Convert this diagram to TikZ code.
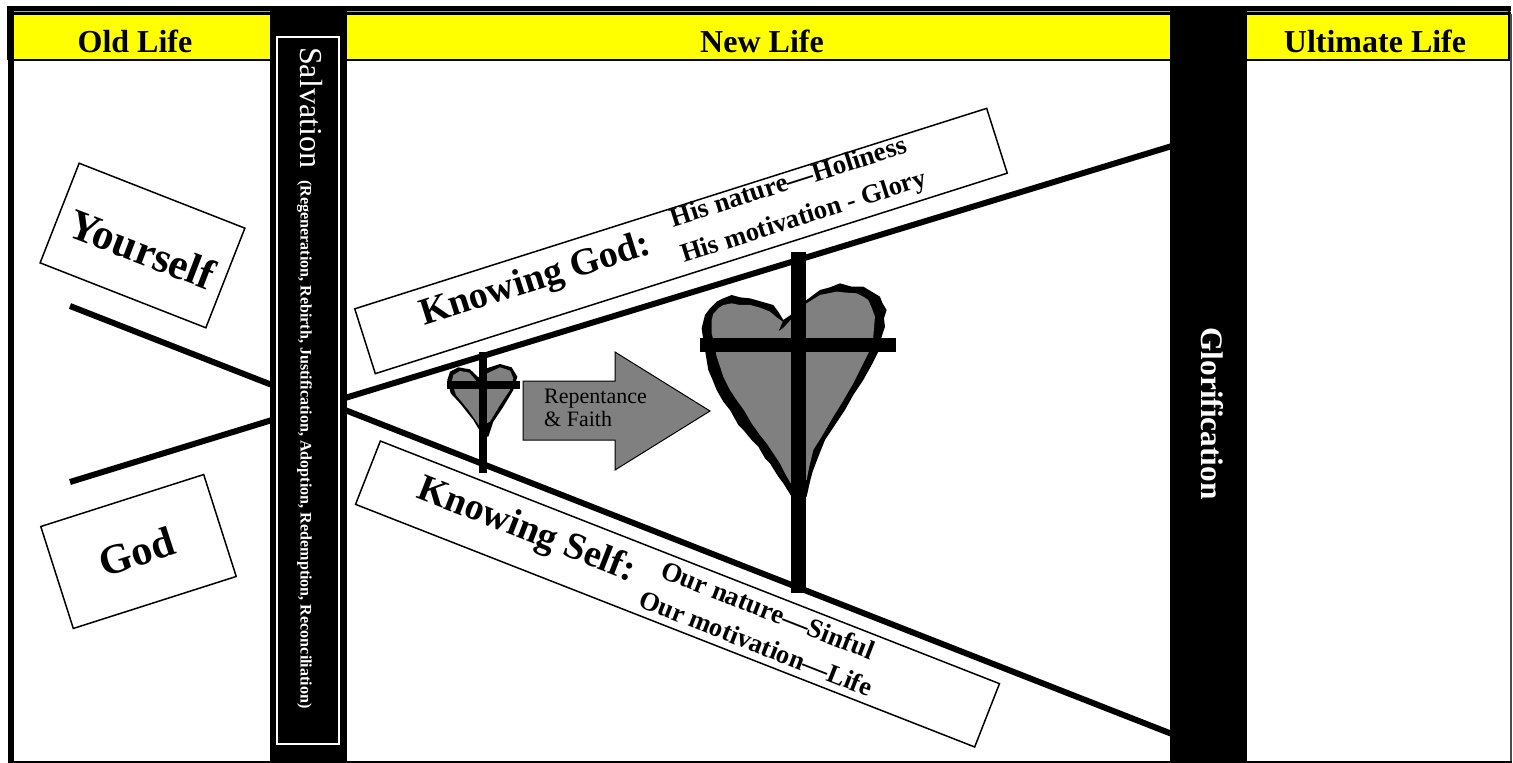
\documentclass[tikz,border=0pt]{standalone}
\usepackage{fontspec}
\setmainfont{Liberation Serif}
\newcommand{\pxf}[1]{\fontsize{#1}{#1}\selectfont}
\definecolor{hgray}{RGB}{128,128,128}
\definecolor{hyellow}{RGB}{255,255,0}
\tikzset{
  lifebar/.style={fill=black,draw=none},
  roadline/.style={line width=6pt,black},
  labelbox/.style={draw=black,line width=1.5pt,fill=white,inner sep=0pt,minimum height=#1},
  head/.style={font=\bfseries\pxf{32},inner sep=0pt,text=black},
  sloped text/.style={font=\bfseries\pxf{#1},inner sep=0pt,text=black},
  crossbar/.style={fill=black,draw=none},
  zoomed/.style={shift={(430pt,-240pt)},x=0.3333pt,y=-0.3333pt},
}
\begin{document}
\begin{tikzpicture}[x=1pt,y=-1pt]
\useasboundingbox (0,0) rectangle (1513,763);
\fill[white] (0,0) rectangle (1513,763);
% frame
\fill[hyellow] (14,15) rectangle (1508,59);
\fill[black] (7,6) rectangle (1511,15);
\fill[hgray!70] (7,10.5) rectangle (1511,12);
\fill[black] (7,6) rectangle (14,60);
\fill[black] (8,60) rectangle (14,762);
\fill[black] (14,58.5) rectangle (1510,60.5);
\fill[black] (1507.5,6) rectangle (1510,60);
\fill[black!70] (1510,14) rectangle (1511.5,762);
\fill[black] (8,760.5) rectangle (1511.5,762.5);
% headers
\node[head] (old) at (135,41) {Old Life};
\node[head] (new) at (762,41) {New Life};
\node[head] (ult) at (1375,41) {Ultimate Life};
% road lines
\coordinate (la) at (70,306); \coordinate (lb) at (272,385);
\coordinate (lc) at (70,482); \coordinate (ld) at (272,420);
\coordinate (ra) at (345,398); \coordinate (rb) at (1172,146);
\coordinate (rc) at (345,410); \coordinate (rd) at (1172,734);
\draw[roadline] (la) -- (lb);
\draw[roadline] (lc) -- (ld);
\draw[roadline] (ra) -- (rb);
\draw[roadline] (rc) -- (rd);
% bars
\node[lifebar,inner sep=0pt,minimum width=77pt,minimum height=756pt] (salv) at (308.5,384) {};
\node[lifebar,inner sep=0pt,minimum width=77pt,minimum height=756pt] (glor) at (1208.5,384) {};
\node[draw=white,line width=1.3pt,fill=black,inner sep=0pt,minimum width=62pt,minimum height=707pt] (salvbox) at (308,390.5) {};
\node[rotate=-90,anchor=base west,inner sep=0pt,text=white] (salvtext) at (300.5,47) {\pxf{32}Salvation {\bfseries\pxf{16.1} (Regeneration, Rebirth, Justification, Adoption, Redemption, Reconciliation)}};
\node[rotate=-90,inner sep=0pt,text=white,font=\bfseries\pxf{31.3}] (glortext) at (1212,413.5) {Glorification};
% boxes
\node[labelbox=107pt,rotate=-21.4,minimum width=178pt] (you) at (142.5,245.5) {};
\node[sloped text=43,rotate=-21] (yout) at (142,249) {Yourself};
\node[labelbox=107pt,rotate=17.7,minimum width=171pt] (god) at (138.5,551.5) {};
\node[sloped text=42,rotate=18] (godt) at (137,552) {God};
\node[labelbox=68pt,rotate=17.6,minimum width=663pt] (kg) at (681,241) {};
\node[sloped text=38,rotate=17.6] (kgt) at (536,281) {Knowing God:};
\node[sloped text=27,rotate=17.6] (kg1) at (788,181) {His nature---Holiness};
\node[sloped text=26.5,rotate=17.6] (kg2) at (804,218) {His motivation - Glory};
\node[labelbox=68pt,rotate=-21.4,minimum width=665pt] (ks) at (677.5,594) {};
\node[sloped text=38,rotate=-21.4] (kst) at (526,531) {Knowing Self:};
\node[sloped text=27,rotate=-21.4] (ks1) at (768,610) {Our nature---Sinful};
\node[sloped text=26.5,rotate=-21.4] (ks2) at (756,643) {Our motivation---Life};
% small heart
\begin{scope}[zoomed]
\fill[black] (160,590) -- (130,540) -- (90,490) -- (62,460) -- (52,420) -- (60,395) -- (85,382) -- (120,388) -- (145,412) -- (170,385) -- (210,372) -- (245,382) -- (262,410) -- (250,450) -- (220,500) -- (190,545) -- (175,590) -- cycle;
\fill[hgray] (150,560) -- (115,510) -- (78,465) -- (65,425) -- (70,405) -- (90,393) -- (118,398) -- (145,430) -- (172,400) -- (210,382) -- (240,392) -- (250,415) -- (240,450) -- (210,495) -- (180,545) -- cycle;
\end{scope}
\node[crossbar,inner sep=0pt,minimum width=8pt,minimum height=121pt] (sv) at (483,412.5) {};
\node[crossbar,inner sep=0pt,minimum width=73pt,minimum height=8pt] (sh) at (483.5,385) {};
% arrow
\draw[fill=hgray,draw=black,line width=1pt] (523,381) -- (615,381) -- (615,352) -- (710,411) -- (615,470) -- (615,440) -- (523,440) -- cycle;
\node[anchor=base west,inner sep=0pt,align=left,text=black] (rep1) at (544,403) {\pxf{22}Repentance};
\node[anchor=base west,inner sep=0pt,align=left,text=black] (rep2) at (544,426) {\pxf{22}\& Faith};
% big heart
\begin{scope}[zoomed]
\fill[black] (1082,225) -- (1060,240) -- (1045,215) -- (1030,195) -- (995,185) -- (960,175) -- (930,172) -- (905,165) -- (880,175) -- (860,185) -- (840,205) -- (825,225) -- (815,265) -- (820,300) -- (825,330) -- (835,390) -- (848,420) -- (860,450) -- (880,485) -- (900,510) -- (925,555) -- (940,570) -- (965,600) -- (985,620) -- (1005,655) -- (1020,670) -- (1045,710) -- (1060,730) -- (1085,770) -- (1105,782) -- (1130,770) -- (1140,725) -- (1148,695) -- (1165,650) -- (1185,600) -- (1215,555) -- (1245,510) -- (1270,465) -- (1300,420) -- (1325,375) -- (1345,335) -- (1352,300) -- (1365,260) -- (1362,235) -- (1370,210) -- (1358,190) -- (1350,170) -- (1325,155) -- (1300,140) -- (1265,140) -- (1230,130) -- (1200,142) -- (1170,150) -- (1150,165) -- (1130,180) -- cycle;
\fill[hgray] (1045,275) -- (1058,245) -- (1040,232) -- (1020,215) -- (990,203) -- (960,195) -- (930,195) -- (905,190) -- (880,195) -- (865,205) -- (850,222) -- (845,240) -- (845,280) -- (855,320) -- (860,350) -- (872,385) -- (880,410) -- (900,450) -- (920,480) -- (945,515) -- (965,550) -- (990,585) -- (1010,610) -- (1030,640) -- (1050,670) -- (1065,700) -- (1082,730) -- (1130,720) -- (1138,680) -- (1150,630) -- (1175,590) -- (1210,530) -- (1235,490) -- (1270,430) -- (1295,380) -- (1320,330) -- (1330,290) -- (1335,230) -- (1326,205) -- (1315,180) -- (1300,170) -- (1280,160) -- (1250,158) -- (1220,155) -- (1195,160) -- (1170,165) -- (1130,190) -- (1082,240) -- (1062,262) -- cycle;
\end{scope}
\node[crossbar,inner sep=0pt,minimum width=15pt,minimum height=341pt] (bv) at (798.5,422.5) {};
\node[crossbar,inner sep=0pt,minimum width=196pt,minimum height=14pt] (bh) at (798,345) {};
\end{tikzpicture}
\end{document}
